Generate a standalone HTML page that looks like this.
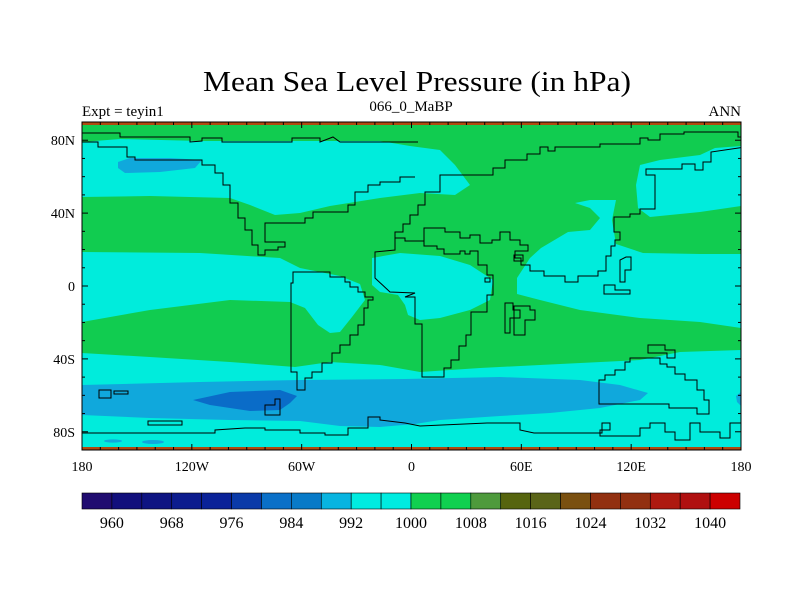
<!DOCTYPE html>
<html><head><meta charset="utf-8"><style>
html,body{margin:0;padding:0;background:#fff;width:800px;height:600px;overflow:hidden}
svg text{font-family:"Liberation Serif",serif;fill:#000}
</style></head><body>
<svg id="chart" width="800" height="600" viewBox="0 0 800 600" xmlns="http://www.w3.org/2000/svg">
<text x="417" y="91" font-size="29" text-anchor="middle" textLength="428" lengthAdjust="spacingAndGlyphs">Mean Sea Level Pressure (in hPa)</text>
<text x="82" y="116" font-size="15">Expt = teyin1</text>
<text x="411" y="111" font-size="15" text-anchor="middle">066_0_MaBP</text>
<text x="741" y="116" font-size="15" text-anchor="end">ANN</text>
<clipPath id="mc"><rect x="82" y="122" width="659" height="328"/></clipPath>
<g clip-path="url(#mc)">
<rect x="82" y="122" width="659" height="328" fill="#11cc50"/>
<path fill="#00ecdc" d="M82,142 L120,139 L200,141 L300,141 L380,141 L410,146 L440,150 L455,165 L470,185 L455,195 L420,193 L380,198 L330,206 L300,213 L275,215 L250,205 L230,198 L150,196 L82,197 Z"/>
<path fill="#00ecdc" d="M640,165 L660,160 L700,155 L715,148 L741,146 L741,206 L700,212 L650,217 L638,208 L636,185 Z"/>
<path fill="#00ecdc" d="M82,252 L200,253 L280,258 L300,268 L340,276 L360,284 L365,300 L352,317 L340,332 L330,333 L318,325 L305,308 L290,302 L230,300 L150,310 L82,322 Z"/>
<path fill="#00ecdc" d="M372,258 L400,253 L440,256 L470,265 L493,280 L490,300 L470,310 L440,318 L420,320 L408,315 L405,305 L398,295 L380,292 L372,285 Z"/>
<path fill="#00ecdc" d="M517,278 L530,258 L541,248 L568,232 L590,230 L600,218 L590,208 L575,203 L590,200 L616,200 L612,220 L616,244 L643,253 L700,254 L741,254 L741,328 L700,322 L640,318 L580,310 L540,300 L517,294 Z"/>
<path fill="#00ecdc" d="M82,353 L150,357 L230,362 L295,367 L330,362 L380,365 L420,372 L480,368 L540,365 L640,360 L680,352 L741,350 L741,450 L82,450 Z"/>
<path fill="#10a8dc" d="M82,385 L200,382 L300,380 L405,379 L500,377 L580,380 L620,385 L648,393 L640,400 L600,408 L550,413 L500,416 L440,420 L415,424 L380,427 L340,426 L300,421 L230,420 L150,418 L82,415 Z"/>
<path fill="#10a8dc" d="M741,392 L736,396 L737,402 L741,406 Z"/>
<path fill="#10a8dc" d="M118,162 L130,158 L170,158 L202,160 L195,168 L160,172 L125,173 L118,168 Z"/>
<ellipse cx="113" cy="441" rx="9" ry="1.6" fill="#10a8dc"/>
<ellipse cx="153" cy="442" rx="11" ry="2" fill="#10a8dc"/>
<path fill="#0a6cc8" d="M193,400 L230,392 L280,390 L297,396 L290,403 L280,410 L250,411 L210,405 Z"/>
<g fill="none" stroke="#000" stroke-width="1">
<path d="M82,133 L120,133 L120,137 L190,137 L190,142 L202,141 L202,138 L222,138 L222,142 L292,142 L292,138 L320,138 L320,142 L333,137 L340,142 L418,142"/>
<path d="M82,146 L82,142 L98,142 L98,147 L127,147 L127,157 L135,157 L135,160 L202,160 L202,165 L215,165 L215,173 L223,173 L223,185 L230,185 L230,203 L238,203 L238,218 L245,218 L245,230 L252,230 L252,245 L258,245 L258,255 L265,255 L265,250 L278,250 L278,247 L285,247 L285,242 L265,242 L265,223 L305,223 L305,218 L313,218 L313,212 L348,212 L348,205 L355,205 L355,192 L368,192 L368,185 L380,185 L380,182 L400,182 L400,177 L415,177"/>
<path d="M298,272 L293,272 L293,283 L291,283 L291,372 L297,372 L297,390 L305,390 L305,378 L312,378 L312,372 L322,372 L322,363 L332,363 L332,353 L340,353 L340,345 L350,345 L350,335 L358,335 L358,325 L364,325 L364,308 L368,308 L368,300 L373,300 L373,297 L365,297 L365,292 L358,292 L358,287 L350,287 L350,282 L345,282 L345,277 L330,277 L330,272 Z"/>
<path d="M415,293 L405,297 L415,297 L415,324 L422,324 L422,377 L444,377 L444,368 L451,368 L451,360 L459,360 L459,346 L466,346 L466,335 L471,335 L471,312 L487,312 L487,295 L493,295 L493,275 L487,275 L487,265 L478,265 L478,251 L470,251 L470,254 L465,254 L465,251 L460,251 L460,254 L444,254 L444,249 L437,249 L437,246 L424,246 L424,241 L405,241 L405,238 L395,238 L395,250 L375,252 L375,278 L390,292 Z"/>
<path d="M395,238 L395,232 L403,232 L403,224 L410,224 L410,215 L418,215 L418,205 L425,205 L425,192 L440,192 L440,175 L493,175 L493,168 L505,168 L505,160 L527,160 L527,154 L540,154 L540,147 L548,147 L548,151 L555,151 L555,147 L600,147 L600,144 L640,144 L640,138 L648,138 L648,140 L660,140 L660,134 L684,134 L684,132 L738,132 L738,137 L745,137"/>
<path d="M745,147 L711,152 L711,162 L703,162 L703,170 L695,170 L695,164 L682,164 L682,169 L646,169 L646,175 L655,175 L655,209 L640,209 L640,214 L630,214 L630,217 L614,217 L614,232 L620,232 L620,240 L615,240 L615,246 L611,246 L611,256 L606,256 L606,271 L598,271 L598,276 L578,276 L578,282 L565,282 L565,276 L544,276 L544,271 L530,271 L530,265 L521,265 L521,258 L515,258 L515,251 L528,251 L528,245 L520,245 L520,240 L510,240 L510,232 L500,232 L500,240 L492,240 L492,243 L480,243 L480,235 L470,235 L470,238 L460,238 L460,232 L445,232 L445,228 L424,228 L424,241"/>
<path d="M514,255 L523,255 L523,261 L514,261 Z"/>
<path d="M485,278 L490,278 L490,282 L485,282 Z"/>
<path d="M505,303 L513,303 L513,310 L520,310 L520,318 L510,318 L510,333 L505,333 Z"/>
<path d="M514,306 L530,306 L530,310 L535,310 L535,320 L525,320 L525,335 L514,335 Z"/>
<path d="M626,257 L631,257 L631,270 L625,270 L625,282 L620,282 L620,260 Z"/>
<path d="M604,285 L615,285 L615,290 L630,290 L630,294 L604,294 Z"/>
<path d="M599,380 L605,380 L605,375 L615,375 L615,370 L625,370 L625,362 L630,362 L630,358 L660,358 L660,364 L667,364 L667,367 L675,367 L675,374 L685,374 L685,380 L697,380 L697,390 L704,390 L704,400 L709,400 L709,414 L697,414 L697,408 L669,408 L669,404 L599,404 Z"/>
<path d="M648,345 L665,345 L665,350 L675,350 L675,358 L667,358 L667,353 L648,353 Z"/>
<path d="M82,433 L215,433 L215,430 L245,428 L265,428 L265,430 L300,430 L300,433 L325,433 L325,435 L348,435 L348,428 L368,428 L368,417 L380,417 L380,420 L405,423 L420,426 L487,423 L520,423 L520,430 L534,433 L602,433 L602,423 L610,423 L610,430 L600,430 L600,436 L640,436 L640,428 L650,428 L650,423 L665,423 L665,432 L675,432 L675,440 L690,440 L690,423 L700,423 L700,432 L720,432 L720,438 L730,438 L730,423 L741,423"/>
<path d="M99,390 L111,390 L111,398 L99,398 Z"/>
<path d="M114,391 L128,391 L128,394 L114,394 Z"/>
<path d="M148,421 L182,421 L182,425 L148,425 Z"/>
<path d="M265,405 L275,405 L275,399 L280,399 L280,415 L265,415 Z"/>
</g>
</g>
<rect x="82" y="122" width="659" height="3" fill="#b04a10"/>
<rect x="82" y="447" width="659" height="3" fill="#b04a10"/>
<rect x="82" y="122" width="659" height="328" fill="none" stroke="#000" stroke-width="1"/>
<g id="ticks" stroke="#000" stroke-width="1"></g>
<g id="xlabels"></g>
<g id="ylabels"></g>
<g id="colorbar"></g>
</svg>
<script>
const lonTicks = [-180, -120, -60, 0, 60, 120, 180];
const lonLabels = ["180", "120W", "60W", "0", "60E", "120E", "180"];
const latTicks = [80, 40, 0, -40, -80];
const latLabels = ["80N", "40N", "0", "40S", "80S"];
const levels = [960, 964, 968, 972, 976, 980, 984, 988, 992, 996, 1000, 1004, 1008, 1012, 1016, 1020, 1024, 1028, 1032, 1036, 1040];
const levelLabels = [960, 968, 976, 984, 992, 1000, 1008, 1016, 1024, 1032, 1040];
const levelColors = ["#200c70","#120f7c","#0e1482","#0c1c8e","#0a2298","#0a3aa8","#0a70c8","#087ac8","#08b4e0","#00ece0","#00ece0","#10d050","#10d050","#4e9a3c","#56640e","#5a6418","#7a5010","#923010","#923010","#ae1a10","#b01010","#cc0000"];
const NS = "http://www.w3.org/2000/svg";
const x0 = 82, x1 = 741, y0 = 122, y1 = 450;
const xs = lon => x0 + (lon + 180) / 360 * (x1 - x0);
const ys = lat => y0 + (90 - lat) / 180 * (y1 - y0);
function mk(tag, attrs, parent) { const e = document.createElementNS(NS, tag); for (const k in attrs) e.setAttribute(k, attrs[k]); parent.appendChild(e); return e; }
const tg = document.getElementById('ticks');
for (let lon = -180; lon <= 180; lon += 10) {
  const major = lon % 60 === 0; const L = major ? 6 : 3;
  const a = mk('line', {x1: xs(lon), x2: xs(lon), y1: y1, y2: y1 - L}, tg);
  
  
  const b = mk('line', {x1: xs(lon), x2: xs(lon), y1: y0, y2: y0 + L}, tg);
  
  
}
for (let lat = -90; lat <= 90; lat += 10) {
  const major = lat % 40 === 0; const L = major ? 6 : 3;
  const a = mk('line', {x1: x0, x2: x0 + L, y1: ys(lat), y2: ys(lat)}, tg);
  
  
  const b = mk('line', {x1: x1, x2: x1 - L, y1: ys(lat), y2: ys(lat)}, tg);
  
  
}
const xl = document.getElementById('xlabels');
lonTicks.forEach((lon, i) => {
  const t = mk('text', {x: xs(lon), y: 471, 'font-size': 14, 'text-anchor': 'middle'}, xl);
  
  
  t.textContent = lonLabels[i];
});
const yl = document.getElementById('ylabels');
latTicks.forEach((lat, i) => {
  const t = mk('text', {x: 75, y: ys(lat) + 5, 'font-size': 14, 'text-anchor': 'end'}, yl);
  
  
  t.textContent = latLabels[i];
});
const cb = document.getElementById('colorbar');
const cbx0 = 82, cbx1 = 740, cby = 493, cbh = 16;
const n = levels.length + 1, bw = (cbx1 - cbx0) / n;
levelColors.forEach((c, i) => {
  const r = mk('rect', {x: cbx0 + i * bw, y: cby, width: bw, height: cbh, fill: c, stroke: '#000', 'stroke-width': 0.6}, cb);
  
  
});
levelLabels.forEach(v => {
  const i = levels.indexOf(v);
  const t = mk('text', {x: cbx0 + (i + 1) * bw, y: 528, 'font-size': 16, 'text-anchor': 'middle'}, cb);
  
  
  t.textContent = v;
});
</script>
</body></html>
